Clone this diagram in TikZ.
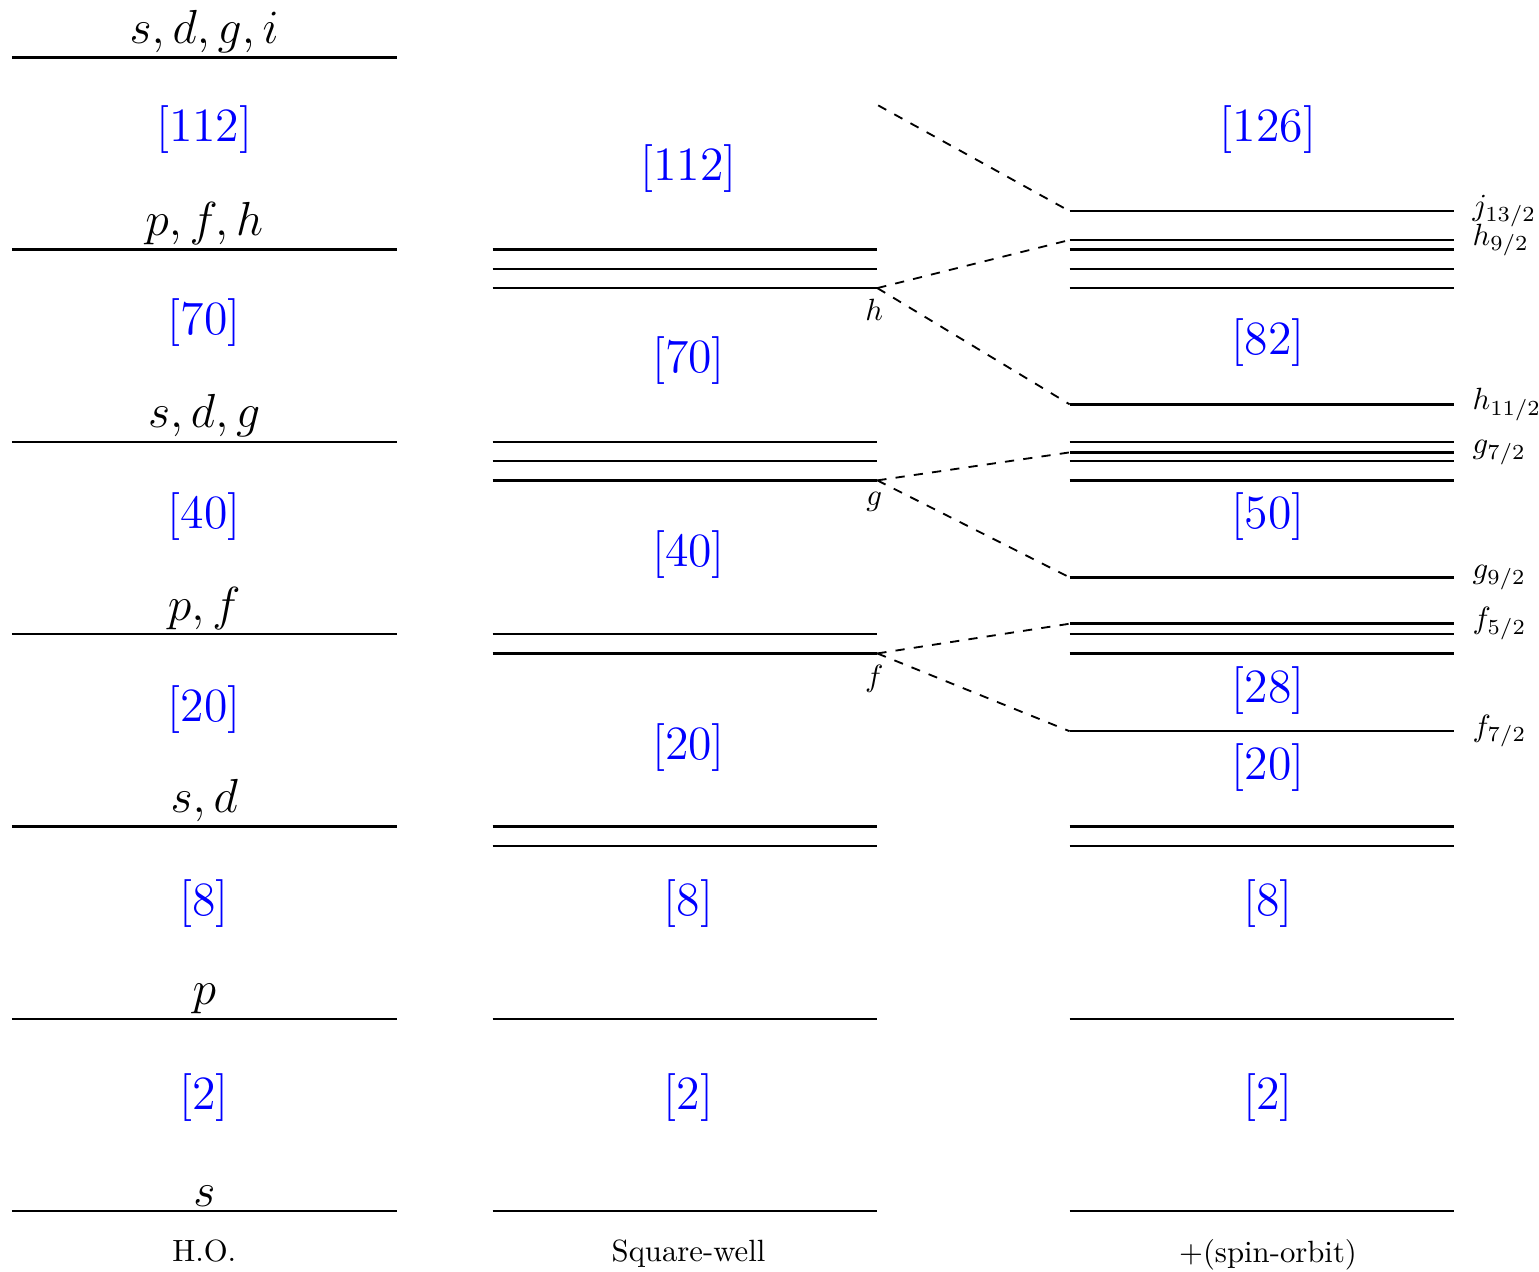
\documentclass[tikz,border=0pt]{standalone}
\usepackage{amsmath,amssymb}
\usetikzlibrary{calc}
\usetikzlibrary{positioning}
\usepackage{tikz}

\tikzset{
  level/.style={thick},
  split/.style={semithick, dashed},
  magic/.style={blue, font=\Large, scale=1.08},
  orbit/.style={above, inner sep=1pt, font=\Large, scale=1.08},
  sublabel/.style={below, xshift=-1pt},
  jlabel/.style={right=0.08cm},
  column/.style={below=0.2cm}
}

\begin{document}
\begin{tikzpicture}[scale=1, every node/.style={scale=1}]
\useasboundingbox (-0.137,-0.686) rectangle (17.47,13.856);

% harmonic oscillator
\foreach \n/\lab in {0/s,1/p,2/{s,d},3/{p,f},4/{s,d,g},5/{p,f,h},6/{s,d,g,i}}
  \draw[level] (0,2.2*\n) -- (4.4,2.2*\n) node[orbit, midway] (ho\n) {$\lab$};
\foreach \y/\m in {1.30/2,3.52/8,5.74/20,7.95/40,10.16/70,12.37/112}
  \node[magic] (hom\m) at (2.2,\y) {[\m]};
\node[column] (ho) at (2.2,0) {H.O.};

% square well
\foreach \y in {0,2.2,4.18,4.4,6.6,8.58,8.8,10.78,11.0}
  \draw[level] (5.5,\y) -- (9.9,\y);
\draw[level] (5.5,6.38) -- (9.9,6.38) coordinate (f) node[sublabel] (fl) {$f$};
\draw[level] (5.5,8.36) -- (9.9,8.36) coordinate (g) node[sublabel] (gl) {$g$};
\draw[level] (5.5,10.56) -- (9.9,10.56) coordinate (h) node[sublabel] (hl) {$h$};
\coordinate (i) at (9.91,12.65);
\foreach \y/\m in {1.30/2,3.52/8,5.30/20,7.51/40,9.73/70,11.93/112}
  \node[magic] (swm\m) at (7.74,\y) {[\m]};
\node[column] (sw) at (7.74,0) {Square-well};

% spin-orbit
\foreach \y in {0,2.2,4.18,4.4,6.38,6.6,8.36,8.58,8.8,10.56,10.78,11.0}
  \draw[level] (12.1,\y) -- (16.5,\y);
\draw[level] (12.1,5.49) coordinate (f7) -- (16.5,5.49) node[jlabel] (lf7) {$f_{7/2}$};
\draw[level] (12.1,6.72) coordinate (f5) -- (16.5,6.72) node[jlabel] (lf5) {$f_{5/2}$};
\draw[level] (12.1,7.25) coordinate (g9) -- (16.5,7.25) node[jlabel] (lg9) {$g_{9/2}$};
\draw[level] (12.1,8.68) coordinate (g7) -- (16.5,8.68) node[jlabel] (lg7) {$g_{7/2}$};
\draw[level] (12.1,9.23) coordinate (h11) -- (16.5,9.23) node[jlabel] (lh11) {$h_{11/2}$};
\draw[level] (12.1,11.11) coordinate (h9) -- (16.5,11.11) node[jlabel] (lh9) {$h_{9/2}$};
\draw[level] (12.1,11.44) coordinate (j13) -- (16.5,11.44) node[jlabel] (lj13) {$j_{13/2}$};
\foreach \y/\m in {1.30/2,3.52/8,5.07/20,5.96/28,7.95/50,9.94/82,12.37/126}
  \node[magic] (som\m) at (14.37,\y) {[\m]};
\node[column] (so) at (14.37,0) {+(spin-orbit)};

% splitting
\draw[split] (f) -- (f7);
\draw[split] (f) -- (f5);
\draw[split] (g) -- (g9);
\draw[split] (g) -- (g7);
\draw[split] (h) -- (h11);
\draw[split] (h) -- (h9);
\draw[split] (i) -- (j13);

\end{tikzpicture}
\end{document}
